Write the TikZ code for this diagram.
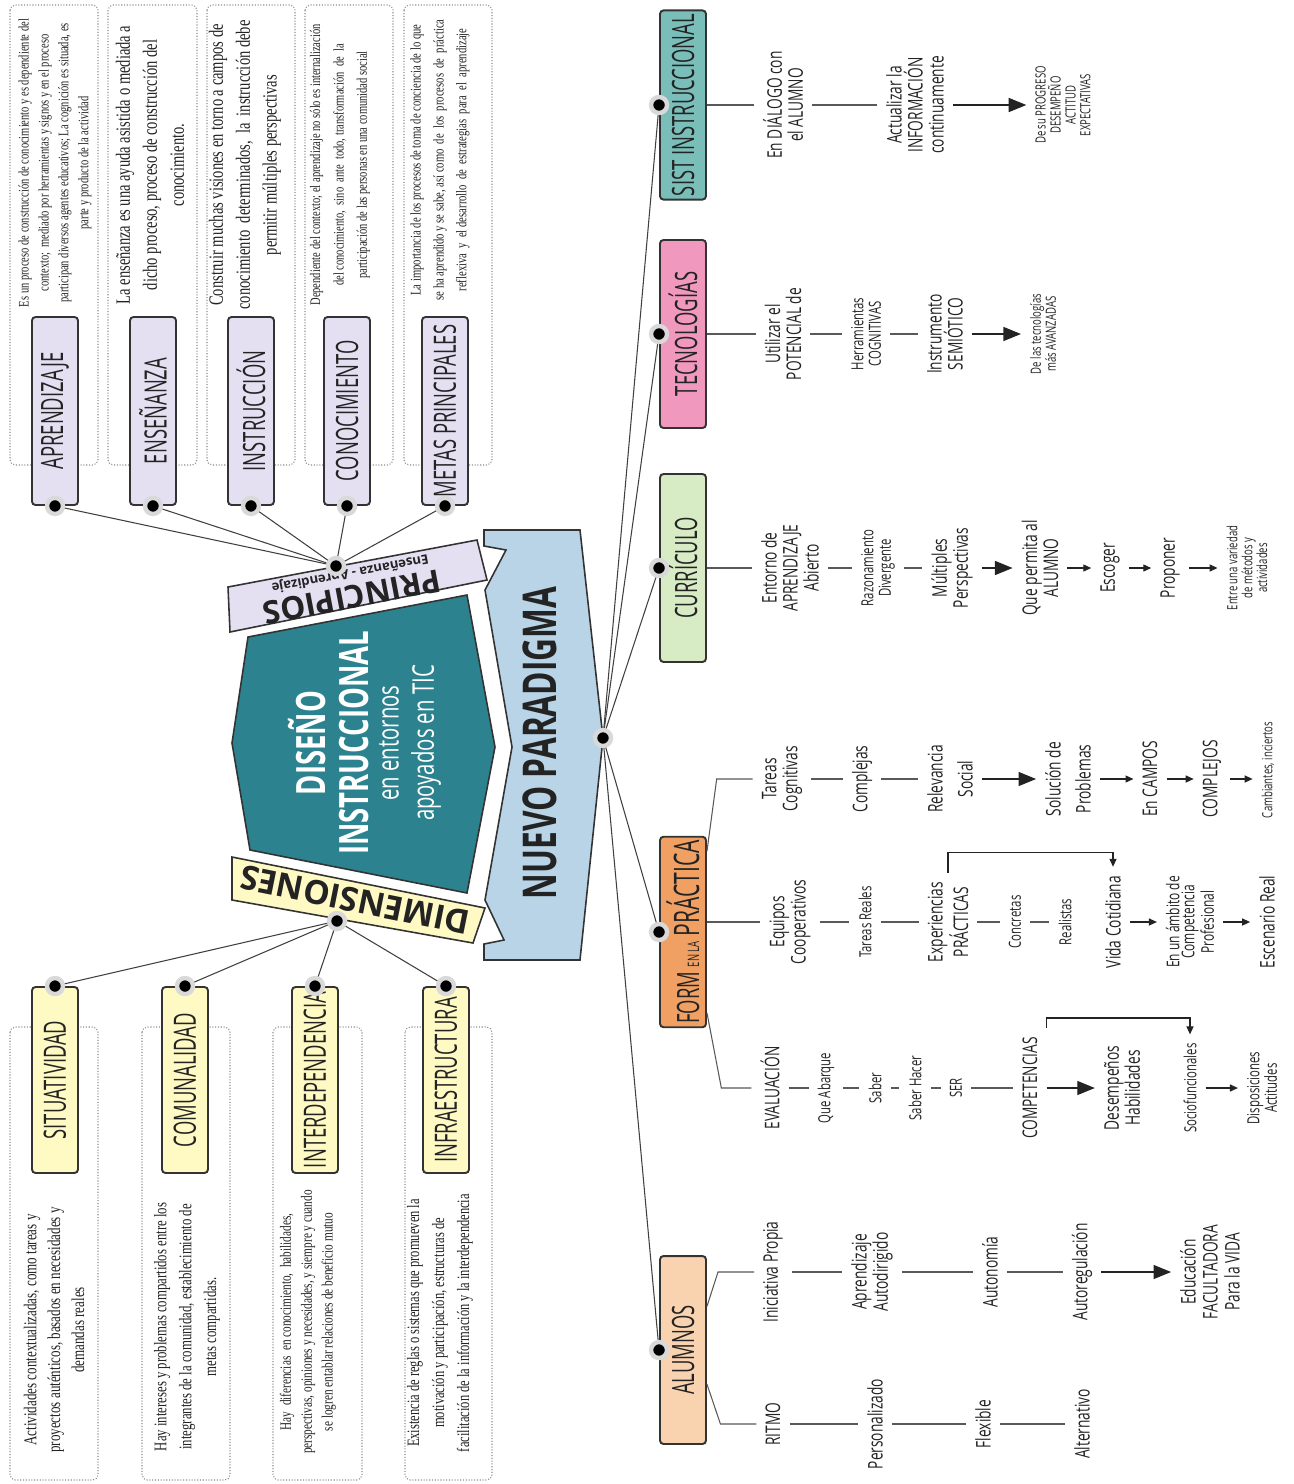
\documentclass[tikz,border=0pt]{standalone}
\usepackage{fontspec}
\setmainfont{Liberation Serif}
\newfontfamily\cnd[FakeStretch=0.68]{Open Sans}
\newfontfamily\cndlbl[FakeStretch=0.6]{Open Sans}
\newfontfamily\cndser[FakeStretch=0.72]{Liberation Serif}
\newfontfamily\ancha{Open Sans}
\definecolor{lavanda}{RGB}{228,224,242}
\definecolor{amarillo}{RGB}{255,250,195}
\definecolor{petroleo}{RGB}{44,131,143}
\definecolor{celeste}{RGB}{185,212,230}
\definecolor{verdeagua}{RGB}{122,190,186}
\definecolor{rosa}{RGB}{240,152,190}
\definecolor{verdeclaro}{RGB}{215,235,196}
\definecolor{naranja}{RGB}{241,160,100}
\definecolor{durazno}{RGB}{249,211,176}
\definecolor{tinta}{RGB}{35,35,35}
\usetikzlibrary{arrows.meta, calc}
\tikzset{
    catbox/.style={rectangle, rounded corners=2pt, draw=black!80, line width=1.1pt, rotate=90,
                   minimum width=3.76cm, minimum height=0.92cm, inner sep=2pt,
                   font=\cndlbl\fontsize{17.5}{18}\selectfont, text=tinta},
    princbox/.style={catbox, fill=lavanda},
    dimbox/.style={catbox, fill=amarillo, minimum width=3.72cm},
    notebox/.style={draw=black!45, densely dotted, line width=0.6pt, rounded corners=3pt},
    notetext/.style={rotate=90, align=center, inner sep=0pt, text=tinta},
    hubdot/.style={circle, fill=black, draw=black!15, line width=2.5pt, inner sep=0pt, minimum size=0.32cm},
    spoke/.style={draw=black!75, line width=0.6pt},
    banner/.style={draw=black!80, line width=0.9pt},
    lbl/.style={rotate=90, align=center, inner sep=5pt, text=tinta, font=\cnd\fontsize{11.5}{12}\selectfont},
    lblm/.style={lbl, font=\cnd\fontsize{9.5}{10}\selectfont},
    lbls/.style={lbl, font=\cnd\fontsize{8}{8.5}\selectfont},
    link/.style={draw=black!65, line width=0.6pt},
    bigarrow/.style={draw=tinta, line width=0.7pt, -{Triangle[length=10pt, width=8pt]}},
    smallarrow/.style={draw=tinta, line width=0.6pt, -{Triangle[length=4.5pt, width=4pt]}},
}
\begin{document}
\begin{tikzpicture}[x=0.02cm, y=-0.02cm]
    \useasboundingbox[fill=white] (0,0) rectangle (1294,1484);

    % Notes of the principles
    \draw[notebox] (10,5) rectangle (98,465);
    \draw[notebox] (108,5) rectangle (197,465);
    \draw[notebox] (207,5) rectangle (295,465);
    \draw[notebox] (305,5) rectangle (393,465);
    \draw[notebox] (404,5) rectangle (492,465);
    \node[notetext, font=\cndser\fontsize{8.3}{11.3}\selectfont] (napr) at (55,163)
        {Es un proceso de construcción de conocimiento y es dependiente del\\ contexto;~ mediado por herramientas y signos y en el proceso\\ participan diversos agentes educativos; La cognición es situada, es\\ parte y producto de la actividad};
    \node[notetext, font=\cndser\fontsize{11.5}{15.3}\selectfont] (nens) at (150,165)
        {La enseñanza es una ayuda asistida o mediada a\\ dicho proceso, proceso de construcción del\\ conocimiento.};
    \node[notetext, font=\cndser\fontsize{11.5}{15.3}\selectfont] (nins) at (245,165)
        {Construir muchas visiones en torno a campos de\\ conocimiento~ determinados,~ la~ instrucción debe\\ permitir múltiples perspectivas};
    \node[notetext, font=\cndser\fontsize{8.3}{13.3}\selectfont] (ncon) at (340,165)
        {Dependiente del contexto; el aprendizaje no sólo es internalización\\ del conocimiento,~ sino~ ante~ todo, transformación~ de~ la\\ participación de las personas en una comunidad social};
    \node[notetext, font=\cndser\fontsize{8.4}{13}\selectfont] (nmet) at (440,160)
        {La importancia de los procesos de toma de conciencia de lo que\\ se ha aprendido y se sabe, así como~ de~ los~ procesos~ de~ práctica\\ reflexiva~ y~ el desarrollo~ de~ estrategias~ para~ el~ aprendizaje};

    % Notes of the dimensions
    \draw[notebox] (10,1027) rectangle (98,1480);
    \draw[notebox] (142,1027) rectangle (230,1480);
    \draw[notebox] (273,1027) rectangle (362,1480);
    \draw[notebox] (405,1027) rectangle (492,1480);
    \node[notetext, font=\cndser\fontsize{10.3}{13.6}\selectfont] (nsit) at (54,1330)
        {Actividades contextualizadas, como tareas y\\ proyectos auténticos, basados en necesidades y\\ demandas reales};
    \node[notetext, font=\cndser\fontsize{10.1}{14.2}\selectfont] (ncom) at (187,1327)
        {Hay intereses y problemas compartidos entre los\\ integrantes de la comunidad, establecimiento de\\ metas compartidas.};
    \node[notetext, font=\cndser\fontsize{8.9}{11.9}\selectfont] (nint) at (308,1322)
        {Hay~ diferencias~ en conocimiento,~ habilidades,\\ perspectivas, opiniones y necesidades, y siempre y cuando\\ se logren entablar relaciones de beneficio mutuo};
    \node[notetext, font=\cndser\fontsize{9.9}{14.2}\selectfont] (ninf) at (440,1323)
        {Existencia de reglas o sistemas que promueven la\\ motivación y participación, estructuras de\\ facilitación de la información y la interdependencia};

    % Principle and dimension labels
    \node[princbox] (apr) at (55,411) {APRENDIZAJE};
    \node[princbox] (ens) at (153,411) {ENSEÑANZA};
    \node[princbox] (ins) at (251,411) {INSTRUCCIÓN};
    \node[princbox] (con) at (347,411) {CONOCIMIENTO};
    \node[princbox] (met) at (445,411) {METAS PRINCIPALES};
    \node[dimbox] (sit) at (55,1080) {SITUATIVIDAD};
    \node[dimbox] (com) at (185,1080) {COMUNALIDAD};
    \node[dimbox] (int) at (315,1080) {INTERDEPENDENCIA};
    \node[dimbox] (inf) at (446,1080) {INFRAESTRUCTURA};

    % Centre
    \draw[banner, fill=celeste] (484,530) -- (580,530) -- (603,738) -- (580,960) -- (484,960) -- (484,944)
        -- (504,940) -- (485,900) -- (512,747) -- (485,590) -- (506,550) -- (484,546) -- cycle;
    \node[rotate=90, text=tinta, font=\cnd\bfseries\fontsize{26.5}{28}\selectfont] (paradigma) at (540,743) {NUEVO PARADIGMA};
    \draw[banner, fill=lavanda] (228,587) -- (477,540) -- (487,580) -- (230,632) -- cycle;
    \node[rotate=190.7, text=tinta, font=\ancha\bfseries\fontsize{18}{18}\selectfont] (princ) at (352,597) {PRINCIPIOS};
    \node[rotate=190.7, text=tinta, font=\ancha\bfseries\fontsize{7.5}{7.5}\selectfont] (ensapr) at (350,573) {Enseñanza - Aprendizaje};
    \draw[banner, fill=amarillo] (232,857) -- (485,908) -- (473,943) -- (232,900) -- cycle;
    \node[rotate=168.6, text=tinta, font=\ancha\bfseries\fontsize{19}{19}\selectfont] (dimen) at (355,900) {DIMENSIONES};
    \draw[banner, fill=petroleo] (248,637) -- (467,595) -- (495,747) -- (467,893) -- (250,850) -- (232,743) -- cycle;
    \node[rotate=90, align=center, text=white, font=\cnd\bfseries\fontsize{23}{24.4}\selectfont] (titulo) at (329,743)
        {DISEÑO\\ INSTRUCCIONAL};
    \node[rotate=90, align=center, text=white, font=\cnd\fontsize{17}{20}\selectfont] (subtitulo) at (410,743)
        {en entornos\\ apoyados en TIC};

    % Spokes to principles and dimensions
    \coordinate (hubP) at (336,566);
    \coordinate (hubD) at (337,921);
    \foreach \n in {apr,ens,ins,con,met} \draw[spoke] (hubP) -- (\n.west);
    \foreach \n in {sit,com,int,inf} \draw[spoke] (hubD) -- (\n.east);
    \foreach \n in {apr,ens,ins,con,met} \node[hubdot] (\n-dot) at (\n.west) {};
    \foreach \n in {sit,com,int,inf} \node[hubdot] (\n-dot) at (\n.east) {};
    \node[hubdot] (hubP-dot) at (hubP) {};
    \node[hubdot] (hubD-dot) at (hubD) {};

    % Branches of the new paradigm
    \node[catbox, fill=verdeagua] (sist) at (683,105) {SIST INSTRUCCIONAL};
    \node[catbox, fill=rosa] (tec) at (683,334) {TECNOLOGÍAS};
    \node[catbox, fill=verdeclaro] (cur) at (683,568) {CURRÍCULO};
    \node[catbox, fill=naranja] (form) at (683,932)
        {FORM {\fontsize{9}{9}\selectfont EN LA} {\fontsize{20}{20}\selectfont PRÁCTICA}};
    \node[catbox, fill=durazno] (alu) at (683,1350) {ALUMNOS};
    \coordinate (hubN) at (603,738);
    \foreach \n in {sist,tec,cur,form,alu} \draw[spoke] (hubN) -- (\n.north);
    \foreach \n in {sist,tec,cur,form,alu} \node[hubdot] (\n-dot) at (\n.north) {};
    \node[hubdot] (hubN-dot) at (hubN) {};

    % SIST INSTRUCCIONAL
    \node[lbl] (dial) at (783,105) {En DIÁLOGO con\\el ALUMNO};
    \node[lbl] (actual) at (915,105) {Actualizar la\\INFORMACIÓN\\continuamente};
    \node[lbls] (progreso) at (1063,105) {De su PROGRESO\\DESEMPEÑO\\ACTITUD\\EXPECTATIVAS};
    \draw[link] (sist) -- (dial);
    \draw[link] (dial) -- (actual);
    \draw[bigarrow] (actual) -- (progreso);

    % TECNOLOGÍAS
    \node[lbl] (util) at (783,334) {Utilizar el\\POTENCIAL de};
    \node[lblm] (herr) at (866,334) {Herramientas\\COGNITIVAS};
    \node[lbl] (instr) at (945,334) {Instrumento\\SEMIÓTICO};
    \node[lbls] (avanz) at (1043,334) {De las tecnologías\\más AVANZADAS};
    \draw[link] (tec) -- (util);
    \draw[link] (util) -- (herr);
    \draw[link] (herr) -- (instr);
    \draw[bigarrow] (instr) -- (avanz);

    % CURRÍCULO
    \node[lbl] (entorno) at (790,568) {Entorno de\\APRENDIZAJE\\Abierto};
    \node[lblm] (razon) at (878,568) {Razonamiento\\Divergente};
    \node[lbl] (multi) at (952,568) {Múltiples\\Perspectivas};
    \node[lbl] (quep) at (1040,568) {Que permita al\\ALUMNO};
    \node[lbl] (esco) at (1110,568) {Escoger};
    \node[lbl] (prop) at (1170,568) {Proponer};
    \node[lbls] (entre) at (1247,568) {Entre una variedad\\de métodos y\\actividades};
    \draw[link] (cur) -- (entorno);
    \draw[link] (entorno) -- (razon);
    \draw[link] (razon) -- (multi);
    \draw[bigarrow] (multi) -- (quep);
    \foreach \a/\b in {quep/esco, esco/prop, prop/entre} \draw[smallarrow] (\a) -- (\b);

    % FORM EN LA PRÁCTICA: cognitive tasks
    \node[lbl] (tareasc) at (782,779) {Tareas\\Cognitivas};
    \node[lbl] (compl) at (862,779) {Complejas};
    \node[lbl] (relev) at (950,779) {Relevancia\\[5pt]Social};
    \node[lbl] (soluc) at (1068,779) {Solución de\\[5pt]Problemas};
    \node[lbl] (campos) at (1150,779) {En CAMPOS};
    \node[lbl] (complejos) at (1212,779) {COMPLEJOS};
    \node[lbls] (cambi) at (1268,770) {Cambiantes, inciertos};
    \draw[link] ($(form.south east)!0.08!(form.south west)$) -- ($(tareasc.north)+(-36,0)$) -- (tareasc.north);
    \draw[link] (tareasc) -- (compl);
    \draw[link] (compl) -- (relev);
    \draw[bigarrow] (relev) -- (soluc);
    \draw[smallarrow] (soluc) -- (campos);
    \draw[smallarrow] (campos) -- (complejos);
    \draw[smallarrow] (complejos) -- (complejos -| cambi.north);

    % FORM EN LA PRÁCTICA: cooperative teams
    \node[lbl] (equip) at (790,922) {Equipos\\Cooperativos};
    \node[lblm] (treal) at (865,922) {Tareas Reales};
    \node[lbl] (exper) at (948,922) {Experiencias\\PRÁCTICAS};
    \node[lblm] (concr) at (1015,922) {Concretas};
    \node[lblm] (realis) at (1065,922) {Realistas};
    \node[lbl] (vida) at (1113,922) {Vida Cotidiana};
    \node[lbl, font=\cnd\fontsize{10}{8.5}\selectfont] (ambito) at (1190,922) {En un ámbito de\\Competencia\\Profesional};
    \node[lbl] (escen) at (1267,922) {Escenario Real};
    \draw[link] (form.south |- equip) -- (equip);
    \foreach \a/\b in {equip/treal, treal/exper, exper/concr, concr/realis} \draw[link] (\a) -- (\b);
    \draw[smallarrow] (exper.east) -- ++(0,-20) -| (vida.east);
    \draw[smallarrow] (vida) -- (ambito);
    \draw[smallarrow] (ambito) -- (escen);

    % FORM EN LA PRÁCTICA: evaluation
    \node[lbl] (eval) at (770,1088) {EVALUACIÓN};
    \node[lblm] (abarq) at (826,1088) {Que Abarque};
    \node[lblm] (saber) at (875,1088) {Saber};
    \node[lblm] (shacer) at (915,1088) {Saber Hacer};
    \node[lblm] (ser) at (956,1088) {SER};
    \node[lbl] (compet) at (1030,1088) {COMPETENCIAS};
    \node[lbl] (desemp) at (1122,1088) {Desempeños\\Habilidades};
    \node[lblm] (socio) at (1190,1088) {Sociofuncionales};
    \node[lblm] (dispo) at (1262,1088) {Disposiciones\\Actitudes};
    \draw[link] ($(form.south east)!0.92!(form.south west)$) -- ($(eval.north)+(-30,0)$) -- (eval.north);
    \foreach \a/\b in {eval/abarq, abarq/saber, saber/shacer, shacer/ser, ser/compet} \draw[link] (\a) -- (\b);
    \draw[bigarrow] (compet) -- (desemp);
    \draw[smallarrow] (compet.south east) -- ++(0,-10) -| (socio.east);
    \draw[smallarrow] (socio) -- (dispo);

    % ALUMNOS
    \node[lbl] (inic) at (773,1272) {Iniciativa Propia};
    \node[lbl] (aprend) at (872,1272) {Aprendizaje\\Autodirigido};
    \node[lbl] (auton) at (990,1272) {Autonomía};
    \node[lbl] (autor) at (1082,1272) {Autoregulación};
    \node[lbl, font=\cnd\fontsize{11.5}{12.5}\selectfont] (educ) at (1210,1272) {Educación\\FACULTADORA\\Para la VIDA};
    \node[lbl] (ritmo) at (773,1424) {RITMO};
    \node[lbl] (perso) at (875,1424) {Personalizado};
    \node[lbl] (flex) at (983,1424) {Flexible};
    \node[lbl] (alter) at (1082,1424) {Alternativo};
    \draw[link] ($(alu.south east)!0.27!(alu.south west)$) -- ($(inic.north)+(-36,0)$) -- (inic.north);
    \draw[link] ($(alu.south east)!0.68!(alu.south west)$) -- ($(ritmo.north)+(-36,0)$) -- (ritmo.north);
    \foreach \a/\b in {inic/aprend, aprend/auton, auton/autor, ritmo/perso, perso/flex, flex/alter} \draw[link] (\a) -- (\b);
    \draw[bigarrow] (autor) -- (educ);
\end{tikzpicture}
\end{document}
